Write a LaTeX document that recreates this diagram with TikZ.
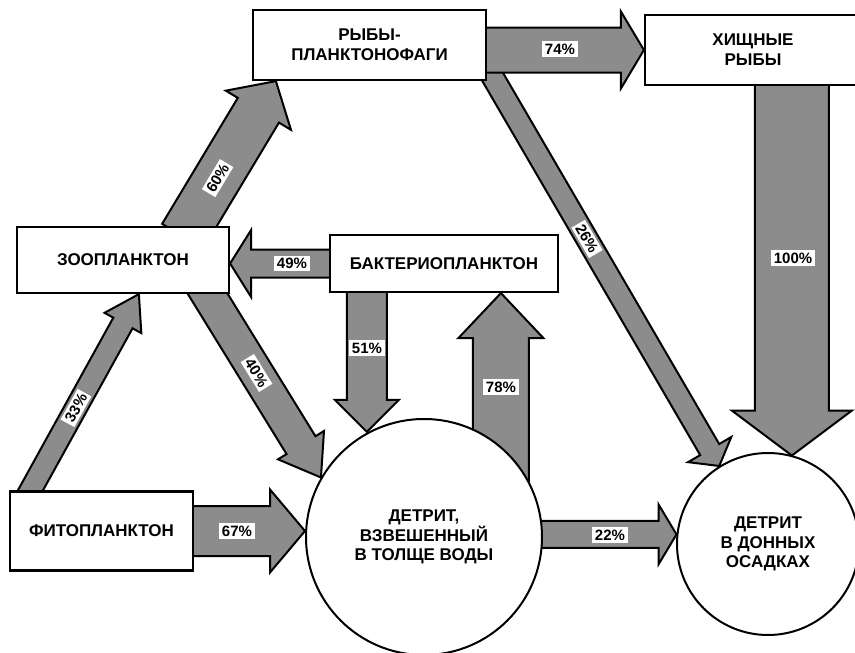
\documentclass[tikz,border=0pt]{standalone}
\usepackage{fontspec}
\setmainfont{Liberation Sans}
\usetikzlibrary{calc}
\pgfdeclarelayer{paper}
\pgfdeclarelayer{back}
\pgfsetlayers{paper,back,main}
\definecolor{arrgray}{RGB}{140,140,140}
\tikzset{
  box/.style={draw, line width=2.2pt, fill=white, align=center, inner sep=0pt,
    font=\bfseries\fontsize{17}{20}\selectfont},
  pool/.style={draw, circle, line width=2pt, fill=white, align=center, inner sep=0pt,
    font=\bfseries\fontsize{17}{19.5}\selectfont},
  fatarr/.style={draw=black, fill=arrgray, line width=2pt},
  lbl/.style={fill=white, inner sep=2.5pt, font=\bfseries\fontsize{15}{15}\selectfont}
}
\newcommand{\fatarrow}[5]{%
  \coordinate (fa-s) at (#1);
  \coordinate (fa-t) at (#2);
  \coordinate (fa-b) at ($(fa-s)!-12pt!(fa-t)$);
  \coordinate (fa-h) at ($(fa-t)!#5!(fa-s)$);
  \filldraw[fatarr] ($(fa-b)!#3!90:(fa-t)$) -- ($(fa-h)!#3!90:(fa-t)$)
    -- ($(fa-h)!#4!90:(fa-t)$) -- (fa-t) -- ($(fa-h)!#4!-90:(fa-t)$)
    -- ($(fa-h)!#3!-90:(fa-t)$) -- ($(fa-b)!#3!-90:(fa-t)$) -- cycle;
}
\begin{document}
\begin{tikzpicture}[x=1pt,y=-1pt]
\useasboundingbox (0,0) rectangle (855,653);
\begin{pgfonlayer}{paper}
\fill[white] (0,0) rectangle (855,653);
\end{pgfonlayer}
% nodes
\node[box, minimum width=233pt, minimum height=70pt] (fishP) at (369.5,45) {РЫБЫ-\\ПЛАНКТОНОФАГИ};
\node[box, minimum width=216pt, minimum height=70pt] (pred) at (753,50) {ХИЩНЫЕ\\РЫБЫ};
\node[box, minimum width=212pt, minimum height=66pt] (zoo) at (123,260) {ЗООПЛАНКТОН};
\node[box, minimum width=228pt, minimum height=57pt] (bact) at (444,263.5) {БАКТЕРИОПЛАНКТОН};
\node[box, minimum width=183pt, minimum height=79pt] (phyto) at (101.5,531) {ФИТОПЛАНКТОН};
\node[pool, minimum size=236pt] (det1) at (424,537) {ДЕТРИТ,\\ВЗВЕШЕННЫЙ\\В ТОЛЩЕ ВОДЫ};
\node[pool, minimum size=182pt] (det2) at (768,544) {ДЕТРИТ\\В ДОННЫХ\\ОСАДКАХ};
% connector end points
\coordinate (s33) at ($(phyto.north west)+(21.5,0)$);
\coordinate (t33) at ($(zoo.south west)+(123,0)$);
\coordinate (s60) at ($(zoo.north west)+(173,0)$);
\coordinate (t60) at ($(fishP.south west)+(24,0)$);
\coordinate (s49) at (bact.west);
\coordinate (t49) at (zoo.east |- bact.west);
\coordinate (s40) at ($(zoo.south west)+(192,0)$);
\coordinate (t40) at (det1.150);
\coordinate (s51) at ($(bact.south west)+(38,0)$);
\coordinate (t51) at (s51 |- det1.118);
\coordinate (t78) at ($(bact.south west)+(172,0)$);
\coordinate (s78) at (t78 |- det1.center);
\coordinate (s74) at (fishP.east |- pred.west);
\coordinate (t74) at (pred.west);
\coordinate (s26) at ($(fishP.south east)+(8,0)$);
\coordinate (t26) at (det2.122);
\coordinate (s100) at ($(pred.south west)+(148,0)$);
\coordinate (t100) at (s100 |- det2.74);
\coordinate (s67) at (phyto.east);
\coordinate (t67) at (det1.west |- phyto.east);
\coordinate (t22) at (det2.174);
\coordinate (s22) at (det1.center |- t22);
% fat arrows
\begin{pgfonlayer}{back}
\fatarrow{s26}{t26}{11pt}{25pt}{19pt}
\fatarrow{s74}{t74}{22.5pt}{38.5pt}{23pt}
\fatarrow{s33}{t33}{11pt}{21pt}{33pt}
\fatarrow{s60}{t60}{24pt}{38pt}{34pt}
\fatarrow{s49}{t49}{14pt}{33.5pt}{21pt}
\fatarrow{s40}{t40}{17pt}{27pt}{38pt}
\fatarrow{s51}{t51}{20pt}{32pt}{32pt}
\fatarrow{s78}{t78}{28pt}{42.5pt}{45pt}
\fatarrow{s100}{t100}{37pt}{60pt}{45pt}
\fatarrow{s67}{t67}{25pt}{41.5pt}{35pt}
\fatarrow{s22}{t22}{13.5pt}{30pt}{18pt}
\end{pgfonlayer}
% labels
\path (s60) -- (t60) node[lbl, sloped, pos=0.33] (l60) {60\%};
\path (s33) -- (t33) node[lbl, sloped, pos=0.42] (l33) {33\%};
\path (s40) -- (t40) node[lbl, sloped, pos=0.43] (l40) {40\%};
\path (s26) -- (t26) node[lbl, sloped, pos=0.41] (l26) {26\%};
\node[lbl] (l74) at (560,49) {74\%};
\node[lbl] (l49) at (292,263.5) {49\%};
\node[lbl] (l51) at (367,348) {51\%};
\node[lbl] (l78) at (501,387) {78\%};
\node[lbl] (l67) at (237,531) {67\%};
\node[lbl] (l22) at (610,535) {22\%};
\node[lbl] (l100) at (793,258) {100\%};
\end{tikzpicture}
\end{document}
